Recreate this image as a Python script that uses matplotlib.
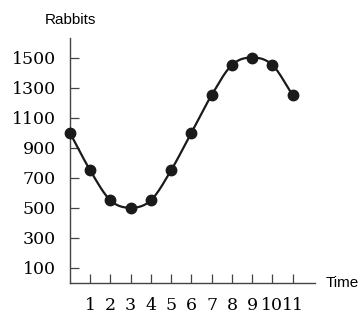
import numpy as np
import matplotlib
matplotlib.use("Agg")
import matplotlib.pyplot as plt

# data
time = [0, 1, 2, 3, 4, 5, 6, 7, 8, 9, 10, 11]
rabbits = [1000, 750, 550, 500, 550, 750, 1000, 1250, 1450, 1500, 1450, 1250]
x_ticks = [1, 2, 3, 4, 5, 6, 7, 8, 9, 10, 11]
y_ticks = [100, 300, 500, 700, 900, 1100, 1300, 1500]


def smooth_path(xs, ys, steps=20):
    # Catmull-Rom curve through the points, only for drawing the line
    xs = np.asarray(xs, float)
    ys = np.asarray(ys, float)
    px = np.concatenate([[2 * xs[0] - xs[1]], xs, [2 * xs[-1] - xs[-2]]])
    py = np.concatenate([[2 * ys[0] - ys[1]], ys, [2 * ys[-1] - ys[-2]]])
    out_x, out_y = [], []
    t = np.linspace(0, 1, steps, endpoint=False)
    for i in range(1, len(px) - 2):
        for p, out in ((px, out_x), (py, out_y)):
            p0, p1, p2, p3 = p[i - 1], p[i], p[i + 1], p[i + 2]
            out.extend(0.5 * (2 * p1 + (-p0 + p2) * t
                              + (2 * p0 - 5 * p1 + 4 * p2 - p3) * t ** 2
                              + (-p0 + 3 * p1 - 3 * p2 + p3) * t ** 3))
    out_x.append(xs[-1])
    out_y.append(ys[-1])
    return out_x, out_y


fig = plt.figure(figsize=(3.62, 3.14), dpi=100)
ax = fig.add_axes([0.193, 0.099, 0.677, 0.78])

lx, ly = smooth_path(time, rabbits)
ax.plot(lx, ly, color="#1a1a1a", lw=1.6, zorder=3, clip_on=False)
ax.plot(time, rabbits, "o", color="#1a1a1a", ms=7.5, zorder=4, clip_on=False)

ax.set_xlim(0, 12.1)
ax.set_ylim(0, 1630)
ax.set_xticks(x_ticks)
ax.set_yticks(y_ticks)
ax.set_xticklabels([str(v) for v in x_ticks], family="DejaVu Serif", fontsize=12.5)
ax.set_yticklabels([str(v) for v in y_ticks], family="DejaVu Serif", fontsize=12.5)
ax.tick_params(direction="in", length=6.5, width=0.9, color="#444444", pad=10)

for s in ["top", "right"]:
    ax.spines[s].set_visible(False)
for s in ["left", "bottom"]:
    ax.spines[s].set_color("#444444")
    ax.spines[s].set_linewidth(1.0)

fig.text(45 / 362, 1 - 20 / 314, "Rabbits", family="Liberation Sans",
         fontsize=11, va="center", ha="left")
fig.text(326 / 362, 1 - 283 / 314, "Time", family="Liberation Sans",
         fontsize=11, va="center", ha="left")

fig.savefig("out.png", dpi=100)
